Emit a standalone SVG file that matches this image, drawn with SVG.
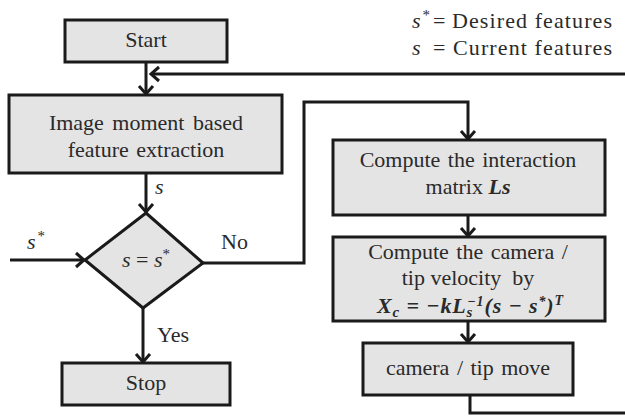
<svg xmlns="http://www.w3.org/2000/svg" width="625" height="417" viewBox="0 0 625 417">
  <style>
    .box { fill: #e4e4e4; stroke: #1a1a1a; stroke-width: 3; }
    .wire { fill: none; stroke: #1a1a1a; stroke-width: 3; }
    .arrow { marker-end: url(#head); }
    text { font-size: 22px; fill: #2a2a2a; }
    .c { text-anchor: middle; }
    .it { font-style: italic; }
    .bi { font-style: italic; font-weight: bold; }
    .sm { font-size: 15px; }
    .xs { font-size: 14px; }
  </style>
  <defs>
    <marker id="head" markerUnits="userSpaceOnUse" markerWidth="20" markerHeight="20" viewBox="-10 -10 20 20" refX="0" refY="0" orient="auto" overflow="visible">
      <path d="M-8,-7 L0,0 L-8,7" fill="none" stroke="#1a1a1a" stroke-width="3"/>
    </marker>
  </defs>

  <g font-family="'Liberation Serif', 'DejaVu Serif', serif">
  <!-- legend -->
  <g id="legend">
    <text x="412" y="28"><tspan class="it">s</tspan><tspan class="sm" dx="2" dy="-8">*</tspan></text>
    <text x="433" y="28">=</text>
    <text x="452" y="28" textLength="160" lengthAdjust="spacing">Desired features</text>
    <text class="it" x="412" y="55">s</text>
    <text x="433" y="55">=</text>
    <text x="453" y="55" textLength="159" lengthAdjust="spacing">Current features</text>
  </g>

  <!-- connectors -->
  <g id="connectors">
    <path class="wire arrow" d="M146,62 V94"/>
    <path class="wire arrow" d="M625,74 H151"/>
    <path class="wire arrow" d="M146,173 V212"/>
    <path class="wire arrow" d="M10,260 H84"/>
    <path class="wire arrow" d="M203,263 H304 V102 H468 V139"/>
    <path class="wire arrow" d="M143,308 V362"/>
    <path class="wire arrow" d="M468,215 V236"/>
    <path class="wire arrow" d="M468,321 V342"/>
    <path class="wire" d="M470,395 V413 H625"/>
    <text class="it" x="155" y="194">s</text>
    <text x="27" y="249"><tspan class="it">s</tspan><tspan class="sm" dx="2" dy="-8">*</tspan></text>
    <text x="221" y="249">No</text>
    <text x="157" y="342">Yes</text>
  </g>

  <g id="start">
    <rect class="box" x="65" y="20" width="162" height="42"/>
    <text class="c" x="146" y="47">Start</text>
  </g>

  <g id="extract">
    <rect class="box" x="9" y="95" width="273" height="78"/>
    <text class="c" x="146" y="130" word-spacing="3">Image moment based</text>
    <text class="c" x="146" y="157" word-spacing="2">feature extraction</text>
  </g>

  <g id="decision">
    <polygon class="box" points="146,213 203,263 143,308 85,260"/>
    <text class="c" x="146" y="267"><tspan class="it">s</tspan> = <tspan class="it">s</tspan><tspan class="sm" dy="-8">*</tspan></text>
  </g>

  <g id="stop">
    <rect class="box" x="62" y="363" width="168" height="42"/>
    <text class="c" x="146" y="390">Stop</text>
  </g>

  <g id="interaction">
    <rect class="box" x="333" y="140" width="272" height="75"/>
    <text class="c" x="468" y="167" word-spacing="2">Compute the interaction</text>
    <text class="c" x="468" y="194">matrix <tspan class="bi">Ls</tspan></text>
  </g>

  <g id="velocity">
    <rect class="box" x="333" y="237" width="272" height="84"/>
    <text class="c" x="468" y="259" word-spacing="2">Compute the camera /</text>
    <text class="c" x="468" y="285" xml:space="preserve">tip velocity  by</text>
    <!-- velocity law: subscript s and exponent -1 stacked on L -->
    <text class="bi" x="377" y="313" font-size="22" textLength="186" lengthAdjust="spacing" xml:space="preserve"><tspan>X</tspan><tspan class="sm" dy="4">c</tspan><tspan dy="-4"> = −</tspan><tspan>kL</tspan><tspan class="sm" dy="4">s</tspan><tspan class="xs" dx="-6" dy="-11">−1</tspan><tspan dy="7">(s − s</tspan><tspan class="xs" dy="-7">*</tspan><tspan dy="7">)</tspan><tspan class="xs" dy="-8">T</tspan></text>
  </g>

  <g id="move">
    <rect class="box" x="363" y="343" width="210" height="52"/>
    <text class="c" x="468" y="375" word-spacing="2">camera / tip move</text>
  </g>
  </g>
</svg>
